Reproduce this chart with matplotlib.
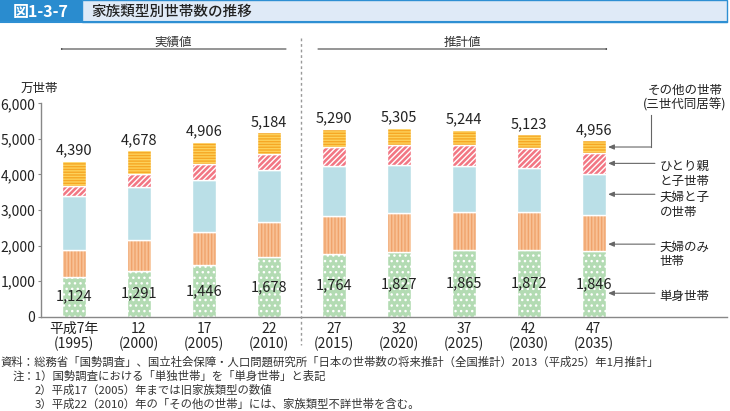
import matplotlib.pyplot as plt
import matplotlib.patches as mpatches
from matplotlib.lines import Line2D
import numpy as np

plt.rcParams['font.family'] = ['Noto Sans CJK JP', 'DejaVu Sans']
plt.rcParams['hatch.linewidth'] = 1.0

# データ（万世帯）
years = ['平成7年\n(1995)', '12\n(2000)', '17\n(2005)', '22\n(2010)', '27\n(2015)',
         '32\n(2020)', '37\n(2025)', '42\n(2030)', '47\n(2035)']
single = [1124, 1291, 1446, 1678, 1764, 1827, 1865, 1872, 1846]
couple = [755, 870, 948, 998, 1072, 1086, 1076, 1058, 1019]
couple_child = [1501, 1484, 1457, 1456, 1409, 1360, 1304, 1250, 1155]
single_parent = [302, 375, 442, 451, 527, 564, 572, 564, 583]
other = [708, 658, 613, 601, 518, 468, 427, 379, 353]
totals = [4390, 4678, 4906, 5184, 5290, 5305, 5244, 5123, 4956]

series_labels = ['単身世帯', '夫婦のみ\n世帯', '夫婦と子\nの世帯', 'ひとり親\nと子世帯']
label_y = [660, 2040, 3442, 4311]   # 右側ラベルの矢印の高さ
other_label = 'その他の世帯\n(三世代同居等)'

W, H = 730, 411
fig = plt.figure(figsize=(W / 100, H / 100), dpi=100)


def fp(x, y):
    return (x / W, 1 - y / H)


ax = fig.add_axes([41 / W, 1 - 316.7 / H, 686 / W, 213.4 / H])

x = np.arange(len(years))
bw = 0.37
layers = [
    (single, '#b3dbb3', '#ffffff', '...'),
    (couple, '#f8c196', '#f0a36c', '|||||'),
    (couple_child, '#badfe7', '#badfe7', ''),
    (single_parent, '#f27683', '#ffffff', '//////'),
    (other, '#f6a724', '#fdd15a', '------'),
]
bottom = np.zeros(len(years))
for vals, fc, hc, hatch in layers:
    vals = np.array(vals)
    ax.bar(x, vals, bw, bottom=bottom, color=fc, edgecolor=hc, hatch=hatch, linewidth=0)
    ax.bar(x, vals, bw, bottom=bottom, fill=False, edgecolor='white', linewidth=1.0)
    bottom += vals

for i in x:
    ax.annotate(f'{totals[i]:,}', (i, totals[i]), xytext=(0, 2.5), textcoords='offset points',
                ha='center', va='bottom', fontsize=10.5, color='#222')
    ax.text(i, single[i] / 2, f'{single[i]:,}', ha='center', va='center',
            fontsize=10.5, color='#222')

ax.set_xlim(-0.508, 10.05)
ax.set_ylim(0, 6000)
ax.set_yticks(range(0, 6001, 1000))
ax.set_yticklabels([f'{v:,}' for v in range(0, 6001, 1000)], fontsize=10, color='#222')
ax.set_xticks(x)
ax.set_xticklabels(years, fontsize=10, color='#222', linespacing=1.05)
ax.tick_params(axis='x', length=0, pad=4)
ax.tick_params(axis='y', length=2.5, width=0.8, color='#888', pad=1.5)
for s in ['top', 'right']:
    ax.spines[s].set_visible(False)
for s in ['left', 'bottom']:
    ax.spines[s].set_color('#888')
    ax.spines[s].set_linewidth(1.0)

fig.text(*fp(39, 88), '万世帯', ha='center', va='center', fontsize=9, color='#222')

# 右側の系列ラベル
arrow = dict(arrowstyle='-|>,head_length=0.35,head_width=0.15', color='#666', lw=0.8,
             shrinkA=0, shrinkB=0)
tip = 8 + bw / 2 + 0.035
for lab, yv in zip(series_labels, label_y):
    ax.annotate('', xy=(tip, yv), xytext=(8.94, yv), arrowprops=arrow, annotation_clip=False)
    ax.text(9.015, yv + 90, lab, ha='left', va='top', fontsize=9, color='#222',
            linespacing=1.15, clip_on=False)
ax.annotate('', xy=(tip, 4771), xytext=(8.877, 4771), arrowprops=arrow, annotation_clip=False)
ax.add_line(Line2D([8.877, 8.877], [4771, 5671], color='#666', lw=0.8, clip_on=False))
ax.text(9.4, 6163, other_label, ha='center', va='center', fontsize=9, color='#222',
        linespacing=1.15, clip_on=False)

# 実績値 / 推計値
fig.add_artist(Line2D([300.7 / W] * 2, [1 - 38 / H, 1 - 345 / H], color='#999', lw=1,
                      linestyle=(0, (2, 2))))
arr2 = dict(arrowstyle='-|>,head_length=0.35,head_width=0.15', color='#444', lw=0.8,
            shrinkA=0, shrinkB=0)
fig.add_artist(mpatches.FancyArrowPatch(fp(286, 49), fp(60, 49), transform=fig.transFigure,
                                        **arr2))
fig.add_artist(mpatches.FancyArrowPatch(fp(318, 49), fp(608, 49), transform=fig.transFigure,
                                        **arr2))
fig.text(*fp(173, 42), '実績値', ha='center', va='center', fontsize=9, color='#333')
fig.text(*fp(462, 42), '推計値', ha='center', va='center', fontsize=9, color='#333')

# タイトル
fig.add_artist(mpatches.Rectangle(fp(82, 22), 645 / W, 22 / H, transform=fig.transFigure,
                                  facecolor='#dfeaf7', edgecolor='#2e8fd3', lw=1))
fig.add_artist(mpatches.Rectangle(fp(0, 22), 82 / W, 22 / H, transform=fig.transFigure,
                                  facecolor='#2a8ccf', edgecolor='none'))
fig.add_artist(Line2D([0, 727 / W], [1 - 22 / H] * 2, color='#2e8fd3', lw=1.5))
fig.text(*fp(41, 11.5), '図1-3-7', ha='center', va='center', fontsize=11.5, color='white',
         fontweight='bold')
fig.text(*fp(91, 11.5), '家族類型別世帯数の推移', ha='left', va='center', fontsize=10.5,
         color='#222', fontweight='medium')

# 出典・注
notes = [
    (0, 362.5, '資料：総務省「国勢調査」、国立社会保障・人口問題研究所「日本の世帯数の将来推計（全国推計）2013（平成25）年1月推計」'),
    (13, 376.5, '注：1）国勢調査における「単独世帯」を「単身世帯」と表記'),
    (35, 390.5, '2）平成17（2005）年までは旧家族類型の数値'),
    (35, 404, '3）平成22（2010）年の「その他の世帯」には、家族類型不詳世帯を含む。'),
]
for nx, ny, t in notes:
    fig.text(*fp(nx, ny), t, ha='left', va='center', fontsize=8.2, color='#333')

fig.savefig('out.png', dpi=100)
